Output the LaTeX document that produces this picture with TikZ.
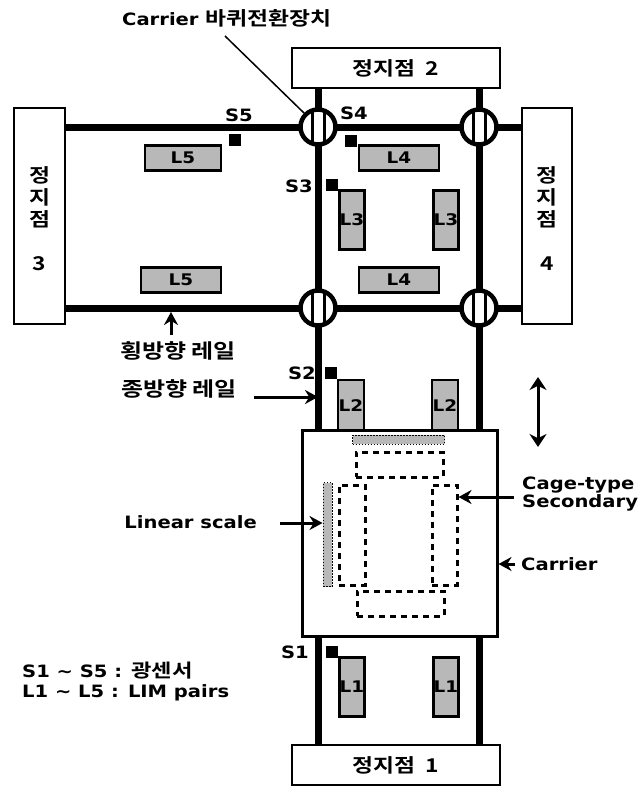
\documentclass[tikz,border=0pt]{standalone}
\usepackage{fontspec}
\setmainfont[FakeStretch=1.15]{DejaVu Sans}
\newfontfamily\kor[FakeStretch=1.2,BoldFont={Noto Sans CJK KR Bold}]{Noto Sans CJK KR}
\usetikzlibrary{arrows.meta,positioning}

\begin{document}
\begin{tikzpicture}[x=1pt,y=-1pt,
  stopbox/.style={draw, line width=1.5pt, fill=white, inner sep=0pt, font=\fontsize{19}{22}\selectfont\bfseries\kor, align=center},
  rail/.style={line width=7pt},
  switch/.style={circle, draw, line width=4.5pt, fill=white, minimum size=35pt, inner sep=0pt,
    path picture={\draw[line width=3pt] ([xshift=-6pt]path picture bounding box.north) -- ([xshift=-6pt]path picture bounding box.south);
      \draw[line width=3pt] ([xshift=6pt]path picture bounding box.north) -- ([xshift=6pt]path picture bounding box.south);}},
  lim/.style={draw, line width=2.5pt, fill=black!28, inner sep=0pt, font=\fontsize{16}{16}\selectfont\bfseries},
  sensor/.style={fill=black, minimum size=12.5pt, inner sep=0pt},
  lab/.style={font=\fontsize{17}{18}\selectfont\bfseries, inner sep=0pt, align=left},
  korlab/.style={font=\fontsize{20}{20}\selectfont\bfseries\kor, inner sep=0pt, align=center},
  arr/.style={-{Stealth[length=13pt,width=14pt]}, line width=3pt},
  arr2/.style={{Stealth[length=13pt,width=17pt]}-{Stealth[length=13pt,width=17pt]}, line width=3pt},
  sec/.style={draw, line width=3pt, dash pattern=on 6pt off 5pt},
  scalebar/.style={draw, fill=black!28, line width=1pt, dash pattern=on 1.5pt off 1.5pt}]
\useasboundingbox (0,0) rectangle (640,787);

\node[stopbox, minimum width=208pt, minimum height=40pt] (stop2) at (396,68) {정지점\ \ 2};
\node[stopbox, minimum width=208pt, minimum height=40pt] (stop1) at (396,765) {정지점\ \ 1};
\node[stopbox, minimum width=51pt, minimum height=216pt] (stop3) at (39.5,216) {};
\node[stopbox, minimum width=50pt, minimum height=216pt] (stop4) at (547,216) {};
\node[korlab, font=\fontsize{19}{22}\selectfont\bfseries\kor] (t7) at (39.5,219) {정\\지\\점\\[22pt]3};
\node[korlab, font=\fontsize{19}{22}\selectfont\bfseries\kor] (t8) at (547,219) {정\\지\\점\\[22pt]4};

\coordinate (c1) at (318,127);
\coordinate (c2) at (479,127);
\coordinate (c3) at (318,308);
\coordinate (c4) at (479,308);
\draw[rail] (stop2.south -| c1) -- (stop1.north -| c1);
\draw[rail] (stop2.south -| c2) -- (stop1.north -| c2);
\draw[rail] (stop3.east |- c1) -- (stop4.west |- c1);
\draw[rail] (stop3.east |- c3) -- (stop4.west |- c3);
\node[switch] (sw1) at (c1) {};
\node[switch] (sw2) at (c2) {};
\node[switch] (sw3) at (c3) {};
\node[switch] (sw4) at (c4) {};

\node[lim, minimum width=76pt, minimum height=25pt] (l5a) at (183,158) {L5};
\node[lim, minimum width=80pt, minimum height=25pt] (l5b) at (181,280) {L5};
\node[lim, minimum width=80pt, minimum height=25pt] (l4a) at (399,158) {L4};
\node[lim, minimum width=80pt, minimum height=25pt] (l4b) at (399,280) {L4};
\node[lim, minimum width=25pt, minimum height=59pt] (l3a) at (352,220) {L3};
\node[lim, minimum width=25pt, minimum height=59pt] (l3b) at (446,220) {L3};
\node[lim, minimum width=26pt, minimum height=52pt] (l2a) at (351,406) {L2};
\node[lim, minimum width=26pt, minimum height=52pt] (l2b) at (445,406) {L2};
\node[lim, minimum width=25pt, minimum height=59pt] (l1a) at (352,687) {L1};
\node[lim, minimum width=25pt, minimum height=59pt] (l1b) at (446,687) {L1};

\node[sensor] (s5) at (235,140) {};
\node[sensor] (s4) at (351,141) {};
\node[sensor] (s3) at (332,185) {};
\node[sensor] (s2) at (331,373) {};
\node[sensor] (s1) at (332,652) {};
\node[lab] at (239,115) {S5};
\node[lab] at (354,113) {S4};
\node[lab] at (299,186) {S3};
\node[lab] at (302,373) {S2};
\node[lab] at (295,652) {S1};

\node[draw, line width=3pt, fill=white, minimum width=195pt, minimum height=206pt] (carrier) at (399.5,533) {};
\node[scalebar, minimum width=92pt, minimum height=9pt, inner sep=0pt] (scale1) at (398.5,439.5) {};
\node[scalebar, minimum width=9pt, minimum height=104pt, inner sep=0pt] (scale2) at (327.5,534.5) {};
\node[sec, minimum width=87pt, minimum height=25pt] (sec1) at (399.5,464.5) {};
\node[sec, minimum width=87pt, minimum height=25pt] (sec2) at (400.5,603.5) {};
\node[sec, minimum width=26pt, minimum height=100pt] (sec3) at (352,535) {};
\node[sec, minimum width=25pt, minimum height=100pt] (sec4) at (444.5,535) {};

\node[lab, anchor=west] (t0) at (122,18) {Carrier {\fontsize{19}{18}\selectfont\kor 바퀴전환장치}};
\node[lab, anchor=west] (t1) at (522,494) {Cage-type\\Secondary};
\node[lab, anchor=west] (t2) at (521,564) {Carrier};
\node[lab, anchor=east] (t3) at (257,522) {Linear scale};
\node[korlab] (t4) at (178,351) {횡방향 레일};
\node[korlab] (t5) at (179,389) {종방향 레일};
\node[lab, anchor=west] (t6) at (22,681) {S1 \textasciitilde\ S5 : {\fontsize{18.5}{15}\selectfont\kor 광센서}\\[2pt]L1 \textasciitilde\ L5 : LIM pairs};

\coordinate (a0) at (225,36);
\coordinate (a1) at (171,335);
\coordinate (a2) at (254,397);
\coordinate (a3) at (538,377);
\coordinate (a4) at (538,447);
\coordinate (a5) at (514,497);
\coordinate (a6) at (515,564);
\coordinate (a7) at (280,523);
\draw[line width=1.5pt] (a0) -- (sw1.north west);
\draw[arr] (a1) -- (171,312);
\draw[arr] (a2) -- (c1 |- a2);
\draw[arr2] (a3) -- (a4);
\draw[arr] (a5) -- (sec4.east |- a5);
\draw[arr] (a6) -- (carrier.east |- a6);
\draw[arr] (a7) -- (scale2.west |- a7);
\end{tikzpicture}
\end{document}
